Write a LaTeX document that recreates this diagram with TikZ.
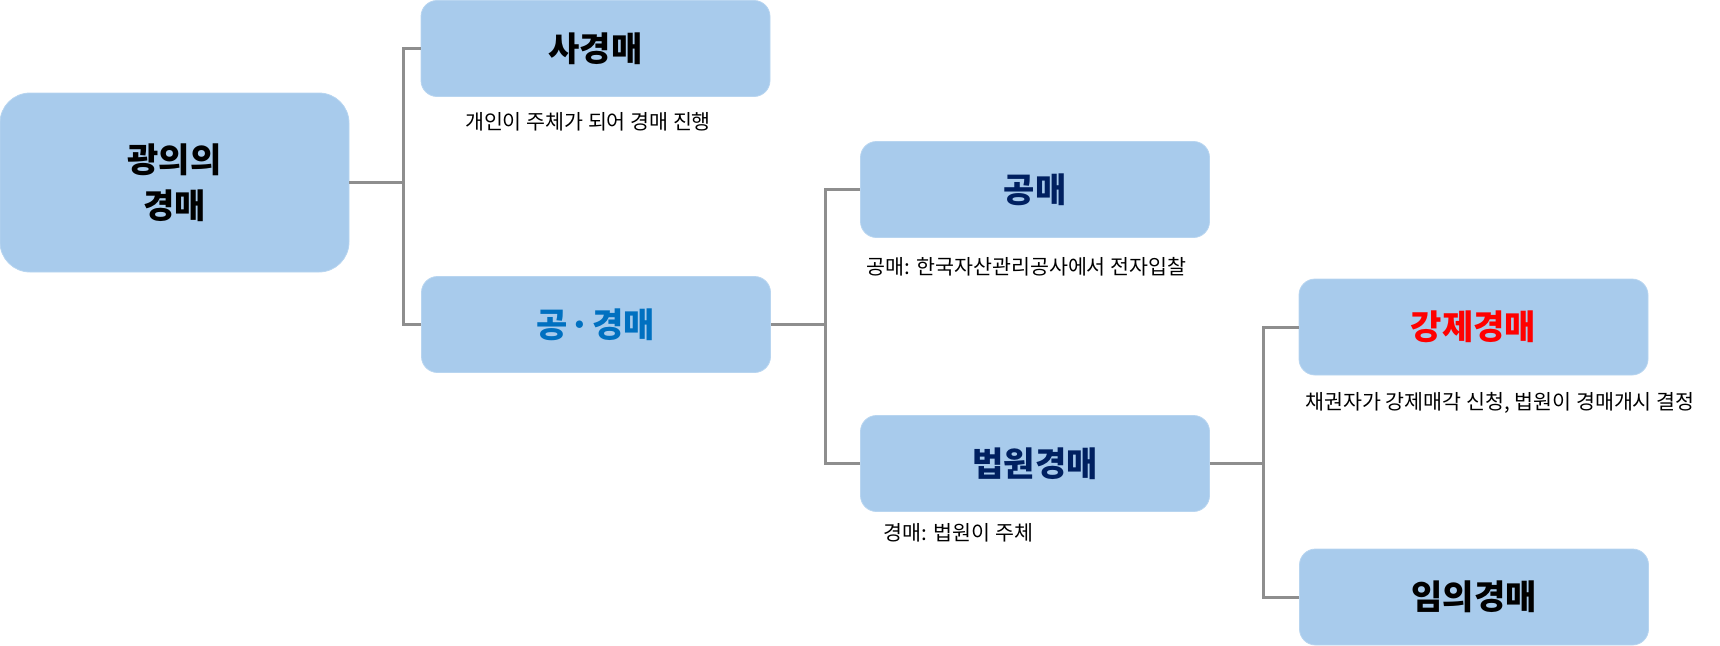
\documentclass[tikz,border=0pt]{standalone}
\usepackage{fontspec}
\setmainfont{Noto Sans CJK KR}
\definecolor{boxfill}{HTML}{A8CBEC}
\definecolor{boxedge}{HTML}{B8D5F0}
\definecolor{conn}{HTML}{8E8E8E}
\definecolor{bluetxt}{HTML}{0070C0}
\definecolor{navytxt}{HTML}{002060}
\definecolor{redtxt}{HTML}{FF0000}
\begin{document}
\begin{tikzpicture}[x=1pt,y=-1pt,
  box/.style={draw=boxedge,line width=0.8pt,fill=boxfill,rounded corners=16pt,
    inner sep=0pt,minimum width=349pt,minimum height=96pt,
    font=\fontsize{34}{40}\selectfont\bfseries,align=center},
  rootbox/.style={box,rounded corners=30pt,minimum width=349pt,minimum height=179pt},
  subtxt/.style={inner sep=0pt,font=\fontsize{20.6}{24}\selectfont},
  link/.style={draw=conn,line width=3pt,line join=miter}]
\useasboundingbox (0,0) rectangle (1720,645);
\node[rootbox,font=\fontsize{34}{46}\selectfont\bfseries] (root) at (174.5,182.5) {광의의\\경매};
\node[box] (sa) at (595.5,48.5) {사경매};
\node[box,text=bluetxt] (gg) at (596,324.5) {공\kern-6pt{} · \kern-6pt{}경매};
\node[box,text=navytxt] (gm) at (1035,189.5) {공매};
\node[box,text=navytxt] (bw) at (1035,463.5) {법원경매};
\node[box,text=redtxt] (gj) at (1473.5,327) {강제경매};
\node[box] (im) at (1474,597) {임의경매};
\node[subtxt] (sasub) at (588,122) {개인이 주체가 되어 경매 진행};
\node[subtxt] (gmsub) at (1026.5,267) {공매: 한국자산관리공사에서 전자입찰};
\node[subtxt] (bwsub) at (958.5,533) {경매: 법원이 주체};
\node[subtxt] (gjsub) at (1500,403) {채권자가 강제매각 신청, 법원이 경매개시 결정};
\coordinate (j1) at (403,182.5);
\coordinate (j2) at (825,324.5);
\coordinate (j3) at (1263,463.5);
\draw[link] (root.east) -- (j1);
\draw[link] (sa.west) -| (j1);
\draw[link] (gg.west) -| (j1);
\draw[link] (gg.east) -- (j2);
\draw[link] (gm.west) -| (j2);
\draw[link] (bw.west) -| (j2);
\draw[link] (bw.east) -- (j3);
\draw[link] (gj.west) -| (j3);
\draw[link] (im.west) -| (j3);
\end{tikzpicture}
\end{document}
